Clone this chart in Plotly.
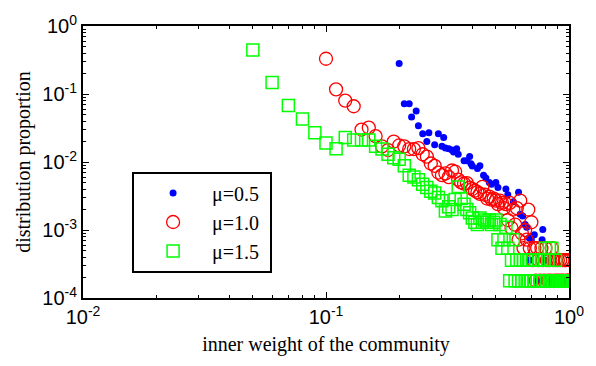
import plotly.graph_objects as go

# ---- data (x = inner weight, y = distribution proportion) ----
blue_x = [0.20, 0.21, 0.22, 0.225, 0.235, 0.24, 0.25, 0.26, 0.265, 0.28, 0.29, 0.30, 0.305, 0.31,
          0.32, 0.33, 0.335, 0.345, 0.35, 0.37, 0.38, 0.39, 0.395, 0.40, 0.42, 0.43, 0.445, 0.455,
          0.47, 0.48, 0.50, 0.51, 0.55, 0.56, 0.59, 0.62, 0.63, 0.645, 0.66, 0.67, 0.685, 0.70,
          0.72, 0.78, 0.775, 0.69, 0.80, 0.74, 0.85, 0.88, 0.90, 0.97]
blue_y = [0.28, 0.072, 0.072, 0.046, 0.056, 0.034, 0.026, 0.020, 0.027, 0.018, 0.026, 0.017, 0.023, 0.016,
          0.0157, 0.015, 0.014, 0.0157, 0.013, 0.0104, 0.0104, 0.012, 0.0094, 0.0087, 0.0080, 0.0088, 0.0064, 0.0058,
          0.0050, 0.0047, 0.0050, 0.0042, 0.0040, 0.0033, 0.0026, 0.0036, 0.0017, 0.0016, 0.0012, 0.0011, 0.00077, 0.00072,
          0.00085, 0.00102, 0.00072, 0.00036, 0.00036, 0.00018, 0.00018, 0.00018, 0.00018, 0.00018]

red_k = list(range(10, 101))
red_y = [0.33, 0.117, 0.080, 0.066, 0.030, 0.032, 0.024, 0.017, 0.015, 0.020,
         0.0175, 0.017, 0.0155, 0.0155, 0.016, 0.013, 0.012, 0.0095, 0.0088, 0.0070,
         0.0064, 0.0068, 0.0060, 0.0075, 0.0072, 0.0055, 0.0050, 0.0048, 0.0049, 0.0042,
         0.0040, 0.0038, 0.0036, 0.0034, 0.0043, 0.0033, 0.0029, 0.0031, 0.0028, 0.0029,
         0.0027, 0.0024, 0.0027, 0.0025, 0.0021, 0.0024, 0.0014, 0.0025, 0.00107, 0.0020,
         0.0012, 0.0021, 0.00072, 0.0027, 0.00089, 0.00054, 0.0010, 0.00072, 0.0020, 0.00054,
         0.0013, 0.00036, 0.00054, 0.00018, 0.00054, 0.00036, 0.00018, 0.00054, 0.00036, 0.00018,
         0.00054, 0.00036, 0.00018, 0.00036, 0.00018, 0.00054, 0.00036, 0.00018, 0.00036, 0.00018,
         0.00036, 0.00018, 0.00036, 0.00018, 0.00036, 0.00018, 0.00036, 0.00036, 0.00018, 0.00018,
         0.00036]
red_x = [k / 100 for k in red_k]

green_k = list(range(5, 101))
green_y = [0.445, 0.148, 0.068, 0.043, 0.027, 0.019, 0.0157, 0.023, 0.021, 0.021,
           0.021, 0.017, 0.0155, 0.013, 0.0115, 0.0110, 0.0088, 0.0064, 0.0060, 0.0055,
           0.0047, 0.0042, 0.0037, 0.0035, 0.0030, 0.0027, 0.0019, 0.0022, 0.0020, 0.0028,
           0.0043, 0.0029, 0.0024, 0.0020, 0.0018, 0.0015, 0.0013, 0.0012, 0.0015, 0.0013,
           0.0014, 0.0013, 0.0014, 0.0012, 0.0013, 0.0014, 0.00072, 0.0012, 0.00054, 0.00072,
           0.0011, 0.00054, 0.00018, 0.00036, 0.00072, 0.00018, 0.00036, 0.00018, 0.00036, 0.00018,
           0.00036, 0.00018, 0.00036, 0.00018, 0.00036, 0.00018, 0.00036, 0.00018, 0.00036, 0.00018,
           0.00036, 0.00018, 0.00036, 0.00018, 0.00036, 0.00054, 0.00018, 0.00036, 0.00054, 0.00018,
           0.00054, 0.00018, 0.00018, 0.00036, 0.00018, 0.00018, 0.00018, 0.00018, 0.00018, 0.00018,
           0.00018, 0.00018, 0.00018, 0.00018, 0.00018, 0.00018]
green_x = [k / 100 for k in green_k]

series_names = ["\u03bc=0.5", "\u03bc=1.0", "\u03bc=1.5"]

x_ticks = [0.01, 0.1, 1]
x_ticktext = ["10<sup>-2</sup>", "10<sup>-1</sup>", "10<sup>0</sup>"]
y_ticks = [1e-4, 1e-3, 1e-2, 1e-1, 1]
y_ticktext = ["10<sup>-4</sup>", "10<sup>-3</sup>", "10<sup>-2</sup>", "10<sup>-1</sup>", "10<sup>0</sup>"]

x_minor = [m * 10 ** e for e in (-2, -1) for m in range(2, 10)]
y_minor = [m * 10 ** e for e in (-4, -3, -2, -1) for m in range(2, 10)]

NB = "\u00a0"

fig = go.Figure()
fig.add_trace(go.Scatter(x=blue_x, y=blue_y, mode="markers", name=series_names[0] + NB,
                         marker=dict(symbol="circle", size=7, color="#0000ff", line=dict(width=0))))
fig.add_trace(go.Scatter(x=red_x, y=red_y, mode="markers", name=series_names[1] + NB,
                         marker=dict(symbol="circle-open", size=13, color="#ff0000", line=dict(width=1.3))))
fig.add_trace(go.Scatter(x=green_x, y=green_y, mode="markers", name=series_names[2] + NB,
                         marker=dict(symbol="square-open", size=12, color="#00ff00", line=dict(width=1.5))))

axis_common = dict(
    type="log", showline=True, linecolor="black", linewidth=2, mirror="ticks",
    ticks="inside", ticklen=6, tickwidth=1, tickcolor="black",
    showgrid=False, zeroline=False, ticklabeloverflow="allow",
    tickfont=dict(family="Liberation Sans, Arial", size=20, color="black"),
)

fig.update_xaxes(**axis_common, range=[-2, 0], tickvals=x_ticks, ticktext=x_ticktext,
                 minor=dict(tickvals=x_minor, ticks="inside", ticklen=3, tickcolor="black", showgrid=False),
                 title=dict(text="inner weight of the community", standoff=10,
                            font=dict(family="Liberation Serif, Times New Roman", size=20, color="black")))
fig.update_yaxes(**axis_common, range=[-4, 0], tickvals=y_ticks, ticktext=y_ticktext,
                 minor=dict(tickvals=y_minor, ticks="inside", ticklen=3, tickcolor="black", showgrid=False),
                 title=dict(text="distribution proportion", standoff=6,
                            font=dict(family="Liberation Serif, Times New Roman", size=20, color="black")))

fig.update_layout(
    width=596, height=366,
    margin=dict(l=83, r=26, t=14, b=68),
    plot_bgcolor="white", paper_bgcolor="white",
    showlegend=True,
    legend=dict(x=0.101, y=0.465, xanchor="left", yanchor="top",
                bordercolor="black", borderwidth=2, bgcolor="white",
                font=dict(family="Liberation Serif, Times New Roman", size=20, color="black"),
                itemsizing="trace", itemwidth=68),
)

fig.write_html("out.html")
